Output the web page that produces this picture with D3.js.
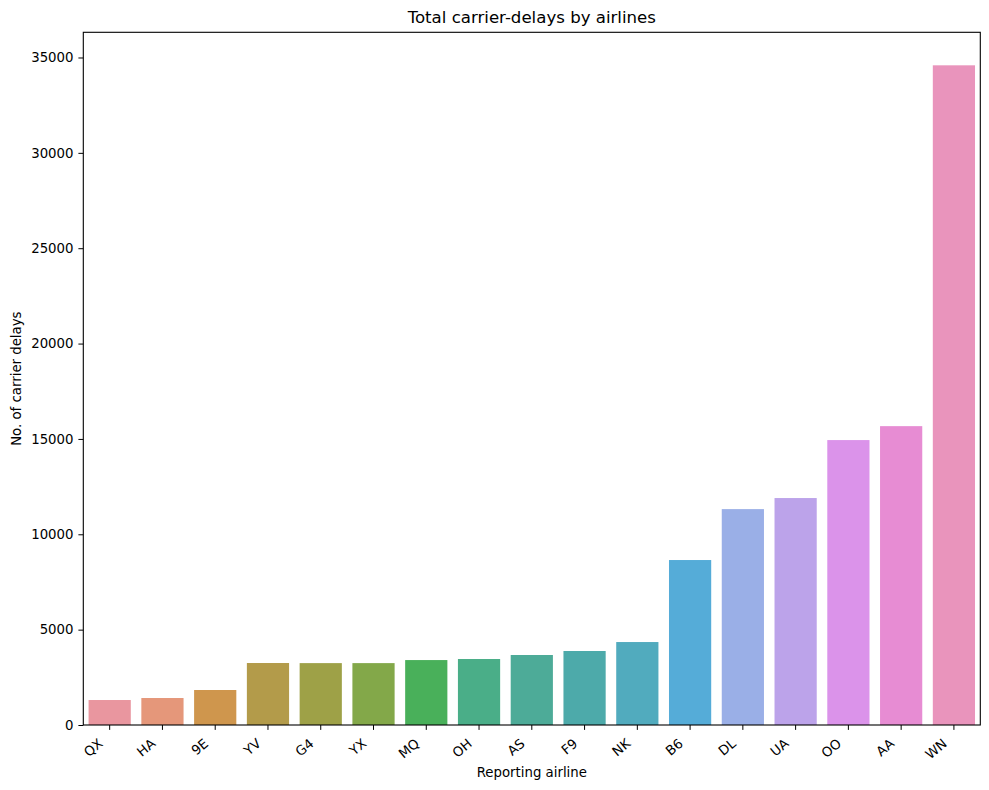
<!DOCTYPE html>
<html>
<head>
<meta charset="utf-8">
<script src="https://cdn.jsdelivr.net/npm/d3@7"></script>
<style>
  body { margin: 0; background: #fff; }
  text { font-family: "DejaVu Sans", sans-serif; fill: #000; }
</style>
</head>
<body>
<div id="vis"></div>
<script>
// set up dimens. and margins
const fullW = 989, fullH = 790;
const margin = { top: 32.3, right: 8.7, bottom: 65, left: 83.3 };
const width = fullW - margin.left - margin.right;
const height = fullH - margin.top - margin.bottom;

// data
const airlines = ['QX', 'HA', '9E', 'YV', 'G4', 'YX', 'MQ', 'OH', 'AS', 'F9', 'NK', 'B6', 'DL', 'UA', 'OO', 'AA', 'WN'];
const delays = [1310, 1415, 1835, 3250, 3245, 3245, 3405, 3460, 3670, 3880, 4350, 8650, 11320, 11900, 14940, 15670, 34590];
const barColors = ['#e9969f', '#e5977a', '#cf964d', '#b39b4a', '#9ea147', '#83a849', '#49b05a', '#4aae88',
    '#4dab98', '#4daaaa', '#51abbe', '#55acd8', '#9aafe7', '#bca3ea', '#db93ea', '#e78cd3', '#e994bc'];
const yTicks = [0, 5000, 10000, 15000, 20000, 25000, 30000, 35000];

const data = airlines.map((a, i) => ({ airline: a, value: delays[i], color: barColors[i] }));

const svgRoot = d3.select('#vis')
    .append('svg')
    .attr('width', fullW)
    .attr('height', fullH);

const svg = svgRoot.append('g')
    .attr('transform', `translate(${margin.left},${margin.top})`);

// scales
const x = d3.scaleBand()
    .domain(airlines)
    .range([0, width])
    .paddingInner(0.2)
    .paddingOuter(0.1);

const y = d3.scaleLinear()
    .domain([0, 36321])
    .range([height, 0]);

// bars
svg.selectAll('.bar')
    .data(data)
    .enter()
    .append('rect')
    .attr('class', 'bar')
    .attr('x', d => x(d.airline))
    .attr('y', d => y(d.value))
    .attr('width', x.bandwidth())
    .attr('height', d => height - y(d.value))
    .attr('fill', d => d.color);

// y axis
const yAxis = svg.append('g')
    .call(d3.axisLeft(y).tickValues(yTicks).tickFormat(d3.format('d')).tickSize(4.9).tickPadding(4.9));
yAxis.selectAll('text').style('font-size', '13.3px');
yAxis.select('.domain').remove();

// x axis (labels rotated, right edge at tick)
const xAxis = svg.append('g')
    .attr('transform', `translate(0,${height})`)
    .call(d3.axisBottom(x).tickSize(4.9).tickPadding(0));
xAxis.select('.domain').remove();
xAxis.selectAll('text')
    .style('font-size', '13.3px')
    .attr('text-anchor', 'end')
    .attr('y', 0)
    .attr('dy', 0)
    .attr('transform', 'translate(-6,20) rotate(-40)');

// frame
svg.append('rect')
    .attr('width', width)
    .attr('height', height)
    .attr('fill', 'none')
    .attr('stroke', '#000')
    .attr('stroke-width', 1.1);

// labels
svgRoot.append('text')
    .attr('x', margin.left + width / 2)
    .attr('y', 23)
    .attr('text-anchor', 'middle')
    .style('font-size', '16.6px')
    .text('Total carrier-delays by airlines');

svgRoot.append('text')
    .attr('x', margin.left + width / 2)
    .attr('y', 777)
    .attr('text-anchor', 'middle')
    .style('font-size', '13.3px')
    .text('Reporting airline');

svgRoot.append('text')
    .attr('transform', `translate(21,${margin.top + height / 2}) rotate(-90)`)
    .attr('text-anchor', 'middle')
    .style('font-size', '13.3px')
    .text('No. of carrier delays');
</script>
</body>
</html>
